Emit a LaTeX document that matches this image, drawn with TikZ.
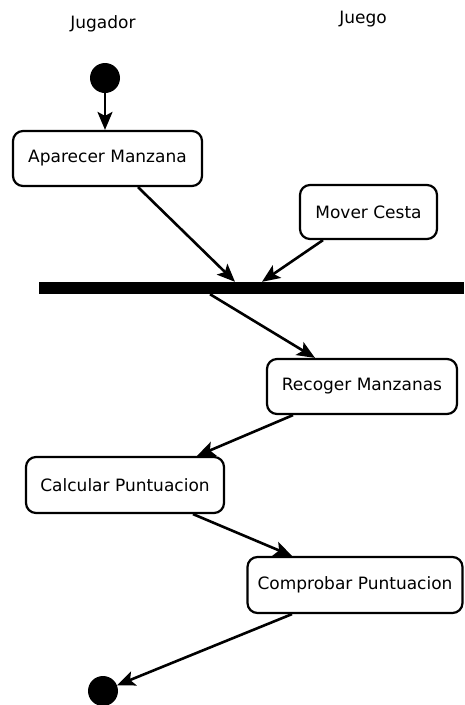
\documentclass[tikz,border=0pt]{standalone}
\usepackage{fontspec}
\setmainfont{DejaVu Sans}
\usetikzlibrary{arrows.meta}
\begin{document}
\begin{tikzpicture}[x=1pt,y=-1pt,
  every node/.style={font=\fontsize{17}{20}\selectfont},
  action/.style={draw,line width=2.2pt,rounded corners=10pt,fill=white,inner sep=0pt},
  dot/.style={circle,fill=black,inner sep=0pt,minimum size=30pt},
  flow/.style={line width=2.6pt,-{Stealth[length=18pt,width=15pt,inset=4pt]}},
  lane/.style={inner sep=0pt}]
\useasboundingbox (0,0) rectangle (464,705);

% swimlane headings
\node[lane] (jugador) at (103,24) {Jugador};
\node[lane] (juego) at (363,19) {Juego};

% initial and final states
\node[dot] (start) at (105,78) {};
\node[dot] (stop) at (103,691) {};

% actions
\node[action,minimum width=189pt,minimum height=55pt] (app) at (107.5,158.5) {Aparecer Manzana};
\node[action,minimum width=137pt,minimum height=54pt] (mover) at (368.5,212) {Mover Cesta};
\node[action,minimum width=190pt,minimum height=55pt] (recoger) at (362,386.5) {Recoger Manzanas};
\node[action,minimum width=198pt,minimum height=56pt] (calc) at (125,485) {Calcular Puntuacion};
\node[action,minimum width=215pt,minimum height=56pt] (comp) at (355,585) {Comprobar Puntuacion};

% synchronisation bar
\node[fill=black,inner sep=0pt,minimum width=425pt,minimum height=12pt] (bar) at (251.5,288) {};

% transitions
\draw[flow] (start.south) -- (start.south |- app.north);
\draw[flow] ([xshift=30.5pt]app.south) -- ([xshift=-16.5pt]bar.north);
\draw[flow] ([xshift=-45.5pt]mover.south) -- ([xshift=10.5pt]bar.north);
\draw[flow] ([xshift=-41.5pt]bar.south) -- ([xshift=-47pt]recoger.north);
\draw[flow] ([xshift=-69pt]recoger.south) -- ([xshift=72pt]calc.north);
\draw[flow] ([xshift=68pt]calc.south) -- ([xshift=-63pt]comp.north);
\draw[flow] ([xshift=-63pt]comp.south) -- (stop);
\end{tikzpicture}
\end{document}
